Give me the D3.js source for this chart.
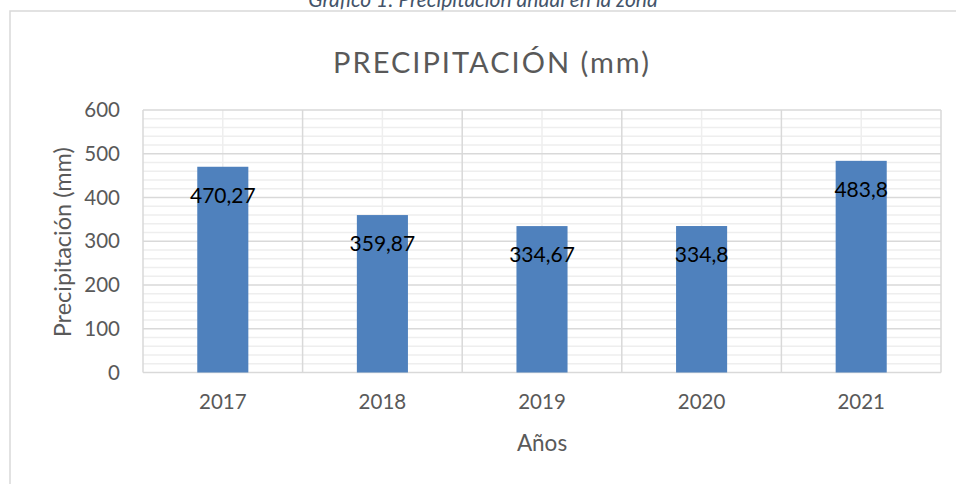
<!DOCTYPE html>
<html>
<head>
<meta charset="utf-8">
<script src="https://cdn.jsdelivr.net/npm/d3@7"></script>
<style>
  html, body { margin: 0; padding: 0; background: #fff; }
  svg { display: block; font-family: Lato, "Open Sans", sans-serif; }
</style>
</head>
<body>
<svg id="chart" width="956" height="484"></svg>
<script>
const caption = "Gráfico 1: Precipitación anual en la zona";
const chartTitle = "PRECIPITACIÓN (mm)";
const yAxisTitle = "Precipitación (mm)";
const xAxisTitle = "Años";
const years = ["2017", "2018", "2019", "2020", "2021"];
const precipitation = [470.27, 359.87, 334.67, 334.8, 483.8];
const valueLabels = ["470,27", "359,87", "334,67", "334,8", "483,8"];
const yTicks = [0, 100, 200, 300, 400, 500, 600];

const svg = d3.select("#chart");
const plot = { left: 143, right: 941, top: 110, bottom: 372.5 };

// caption (partially cut at top, as in the source document)
svg.append("text")
  .attr("x", 483).attr("y", 6.5)
  .attr("text-anchor", "middle")
  .attr("font-style", "italic")
  .attr("font-size", 21)
  .attr("fill", "#44546a")
  .text(caption);

// chart frame
svg.append("rect")
  .attr("x", 10).attr("y", 11)
  .attr("width", 960).attr("height", 500)
  .attr("fill", "#fff")
  .attr("stroke", "#d9d9d9").attr("stroke-width", 1.5);

const x = d3.scaleBand().domain(years).range([plot.left, plot.right]).padding(0);
const y = d3.scaleLinear().domain([0, 600]).range([plot.bottom, plot.top]);

const g = svg.append("g");

// minor horizontal gridlines every 20
const minorY = d3.range(0, 601, 20).filter(v => v % 100 !== 0);
g.selectAll("line.minY").data(minorY).join("line")
  .attr("x1", plot.left).attr("x2", plot.right)
  .attr("y1", d => y(d)).attr("y2", d => y(d))
  .attr("stroke", "#eeeeee").attr("stroke-width", 1.5);

// minor vertical gridlines at category centers
g.selectAll("line.minX").data(years).join("line")
  .attr("x1", d => x(d) + x.bandwidth() / 2).attr("x2", d => x(d) + x.bandwidth() / 2)
  .attr("y1", plot.top).attr("y2", plot.bottom)
  .attr("stroke", "#eeeeee").attr("stroke-width", 1.5);

// major horizontal gridlines
g.selectAll("line.majY").data(yTicks).join("line")
  .attr("x1", plot.left).attr("x2", plot.right)
  .attr("y1", d => y(d)).attr("y2", d => y(d))
  .attr("stroke", "#d9d9d9").attr("stroke-width", 1.5);

// major vertical gridlines at category boundaries
const bounds = years.map(d => x(d)).concat([plot.right]);
g.selectAll("line.majX").data(bounds).join("line")
  .attr("x1", d => d).attr("x2", d => d)
  .attr("y1", plot.top).attr("y2", plot.bottom)
  .attr("stroke", "#d9d9d9").attr("stroke-width", 1.5);

// bars
const barW = x.bandwidth() * 0.32;
g.selectAll("rect.bar").data(precipitation).join("rect")
  .attr("x", (d, i) => x(years[i]) + x.bandwidth() / 2 - barW / 2)
  .attr("y", d => y(d))
  .attr("width", barW)
  .attr("height", d => y(0) - y(d))
  .attr("fill", "#4f81bd");

// data labels
g.selectAll("text.val").data(precipitation).join("text")
  .attr("x", (d, i) => x(years[i]) + x.bandwidth() / 2)
  .attr("y", d => y(d) + 36)
  .attr("text-anchor", "middle")
  .attr("font-size", 21)
  .attr("fill", "#000")
  .text((d, i) => valueLabels[i]);

// y axis tick labels
const yAxis = d3.axisLeft(y).tickValues(yTicks).tickSize(0).tickPadding(0).tickFormat(d3.format("d"));
const ya = svg.append("g").attr("transform", `translate(120,0)`).call(yAxis);
ya.select(".domain").remove();
ya.selectAll("text").attr("font-size", 20.5).attr("fill", "#595959").attr("font-family", "Lato, sans-serif");

// x axis tick labels
const xAxis = d3.axisBottom(x).tickSize(0).tickPadding(0);
const xa = svg.append("g").attr("transform", `translate(0,${plot.bottom + 22})`).call(xAxis);
xa.select(".domain").remove();
xa.selectAll("text").attr("font-size", 20.5).attr("fill", "#595959").attr("font-family", "Lato, sans-serif");

// titles
svg.append("text")
  .attr("x", 492).attr("y", 73)
  .attr("text-anchor", "middle")
  .attr("font-size", 29)
  .attr("letter-spacing", 2)
  .attr("fill", "#595959")
  .text(chartTitle);

svg.append("text")
  .attr("transform", `translate(71,${(plot.top + plot.bottom) / 2 + 1}) rotate(-90)`)
  .attr("text-anchor", "middle")
  .attr("font-size", 23.5)
  .attr("fill", "#595959")
  .text(yAxisTitle);

svg.append("text")
  .attr("x", x("2019") + x.bandwidth() / 2).attr("y", 451)
  .attr("text-anchor", "middle")
  .attr("font-size", 22.5)
  .attr("fill", "#595959")
  .text(xAxisTitle);
</script>
</body>
</html>
